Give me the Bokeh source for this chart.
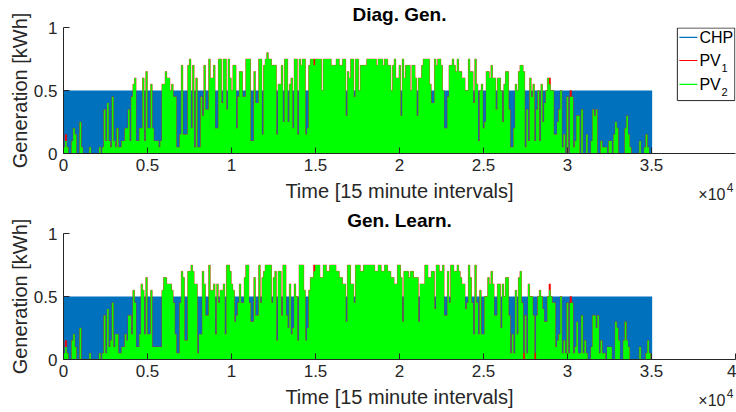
from bokeh.plotting import figure
from bokeh.layouts import column
from bokeh.models import FixedTicker, Label, Title
from bokeh.embed import file_html
from bokeh.resources import INLINE

# One year of 15-minute intervals, grouped by day (96 intervals per day)
STEPS_PER_DAY = 96
N_DAYS = 365

# CHP output [kWh] per day
chp_level = [0.5] * N_DAYS

# Daily peak PV_2 output [kWh], diagnostic generation
pv2_diag = [
    0.05, 0.1, 0.05, 0, 0, 0.1, 0.2, 0.15, 0, 0,
    0.25, 0.05, 0, 0, 0, 0, 0.05, 0, 0, 0,
    0, 0, 0.05, 0, 0.05, 0.35, 0.1, 0.4, 0.1, 0.05,
    0.45, 0.1, 0.05, 0.2, 0.05, 0.05, 0.1, 0.1, 0.2, 0.2,
    0.35, 0.1, 0.45, 0.55, 0.6, 0.1, 0.1, 0.2, 0.2, 0.6,
    0.1, 0.65, 0.2, 0.2, 0.55, 0.2, 0.1, 0.1, 0.1, 0.05,
    0.1, 0.55, 0.55, 0.65, 0.6, 0.6, 0.5, 0.55, 0.45, 0.45,
    0.05, 0.05, 0.15, 0.7, 0.15, 0.15, 0.15, 0.7, 0.75, 0.2,
    0.7, 0.05, 0.6, 0.05, 0.05, 0.45, 0.3, 0.7, 0.35, 0.35,
    0.75, 0.6, 0.6, 0.7, 0.2, 0.2, 0.75, 0.75, 0.4, 0.75,
    0.75, 0.35, 0.75, 0.6, 0.5, 0.7, 0.7, 0.2, 0.45, 0.65,
    0.65, 0.45, 0.45, 0.75, 0.75, 0.75, 0.1, 0.1, 0.65, 0.4,
    0.4, 0.75, 0.75, 0.15, 0.7, 0.75, 0.8, 0.75, 0.75, 0.7,
    0.7, 0.7, 0.15, 0.55, 0.55, 0.7, 0.25, 0.75, 0.75, 0.25,
    0.55, 0.6, 0.2, 0.75, 0.75, 0.15, 0.75, 0.7, 0.75, 0.75,
    0.15, 0.2, 0.7, 0.75, 0.75, 0.7, 0.75, 0.75, 0.75, 0.75,
    0.5, 0.75, 0.75, 0.75, 0.75, 0.75, 0.7, 0.7, 0.7, 0.75,
    0.75, 0.7, 0.7, 0.75, 0.75, 0.3, 0.65, 0.6, 0.75, 0.75,
    0.45, 0.75, 0.75, 0.5, 0.7, 0.7, 0.7, 0.7, 0.75, 0.75,
    0.75, 0.75, 0.75, 0.75, 0.7, 0.75, 0.75, 0.75, 0.7, 0.75,
    0.75, 0.7, 0.7, 0.5, 0.7, 0.75, 0.6, 0.6, 0.7, 0.3,
    0.75, 0.6, 0.7, 0.7, 0.7, 0.5, 0.7, 0.7, 0.6, 0.3,
    0.6, 0.6, 0.7, 0.75, 0.75, 0.75, 0.75, 0.55, 0.4, 0.4,
    0.75, 0.7, 0.75, 0.75, 0.7, 0.5, 0.2, 0.2, 0.45, 0.7,
    0.7, 0.75, 0.7, 0.65, 0.75, 0.65, 0.65, 0.6, 0.6, 0.5,
    0.5, 0.75, 0.65, 0.65, 0.4, 0.75, 0.55, 0.1, 0.5, 0.55,
    0.2, 0.25, 0.65, 0.65, 0.6, 0.7, 0.6, 0.6, 0.35, 0.6,
    0.6, 0.5, 0.25, 0.55, 0.65, 0.65, 0.35, 0.05, 0.05, 0.2,
    0.55, 0.5, 0.65, 0.7, 0.7, 0.65, 0.05, 0.35, 0.1, 0.6,
    0.45, 0.55, 0.1, 0.35, 0.5, 0.1, 0.55, 0.25, 0.4, 0.5,
    0.6, 0.55, 0.5, 0.5, 0.15, 0.15, 0.25, 0.35, 0.5, 0.05,
    0.15, 0, 0.45, 0, 0.45, 0.45, 0.05, 0.1, 0.3, 0.3,
    0, 0.35, 0, 0, 0.15, 0, 0, 0.1, 0.35, 0.3,
    0.35, 0, 0, 0.1, 0.05, 0.05, 0.05, 0, 0.1, 0.1,
    0, 0.15, 0.25, 0.2, 0, 0, 0, 0, 0.2, 0.3,
    0.15, 0.05, 0, 0, 0, 0, 0, 0.1, 0, 0,
    0.05, 0.15, 0.05, 0, 0,
]

# Daily peak PV_2 output [kWh], learned generation
pv2_learn = [
    0.05, 0.1, 0.05, 0, 0, 0.15, 0.2, 0.1, 0, 0,
    0.25, 0, 0, 0, 0, 0, 0.05, 0, 0, 0,
    0, 0, 0.05, 0, 0.05, 0.35, 0.05, 0.4, 0.1, 0.15,
    0.45, 0.1, 0.2, 0.2, 0.05, 0.05, 0.1, 0.1, 0.2, 0.15,
    0.35, 0.35, 0.2, 0.55, 0.45, 0.1, 0.1, 0.2, 0.6, 0.55,
    0.2, 0.65, 0.2, 0.2, 0.55, 0.1, 0.1, 0.1, 0.1, 0.1,
    0.1, 0.55, 0.65, 0.65, 0.6, 0.6, 0.6, 0.55, 0.45, 0.2,
    0.05, 0.05, 0.45, 0.7, 0.65, 0.15, 0.15, 0.7, 0.7, 0.75,
    0.7, 0.6, 0.6, 0.05, 0.2, 0.2, 0.7, 0.6, 0.35, 0.35,
    0.75, 0.55, 0.55, 0.6, 0.2, 0.6, 0.45, 0.55, 0.55, 0.6,
    0.2, 0.75, 0.75, 0.7, 0.6, 0.55, 0.3, 0.35, 0.45, 0.6,
    0.45, 0.45, 0.65, 0.75, 0.75, 0.45, 0.3, 0.3, 0.65, 0.35,
    0.35, 0.75, 0.45, 0.65, 0.7, 0.75, 0.75, 0.75, 0.75, 0.45,
    0.65, 0.7, 0.15, 0.7, 0.7, 0.35, 0.75, 0.75, 0.35, 0.25,
    0.6, 0.2, 0.25, 0.6, 0.5, 0.15, 0.75, 0.75, 0.75, 0.55,
    0.15, 0.25, 0.55, 0.65, 0.65, 0.7, 0.75, 0.75, 0.75, 0.65,
    0.65, 0.75, 0.75, 0.7, 0.7, 0.75, 0.75, 0.75, 0.75, 0.7,
    0.7, 0.65, 0.65, 0.6, 0.6, 0.3, 0.75, 0.75, 0.6, 0.6,
    0.45, 0.75, 0.75, 0.75, 0.7, 0.7, 0.75, 0.75, 0.75, 0.75,
    0.75, 0.75, 0.75, 0.7, 0.7, 0.75, 0.75, 0.7, 0.7, 0.75,
    0.75, 0.7, 0.7, 0.65, 0.65, 0.6, 0.6, 0.75, 0.75, 0.65,
    0.3, 0.7, 0.7, 0.7, 0.65, 0.7, 0.7, 0.65, 0.65, 0.65,
    0.3, 0.6, 0.6, 0.6, 0.75, 0.75, 0.65, 0.65, 0.7, 0.7,
    0.4, 0.75, 0.75, 0.7, 0.7, 0.75, 0.35, 0.35, 0.7, 0.45,
    0.75, 0.75, 0.7, 0.7, 0.75, 0.7, 0.65, 0.6, 0.6, 0.4,
    0.45, 0.75, 0.65, 0.45, 0.2, 0.75, 0.45, 0.2, 0.55, 0.2,
    0.2, 0.5, 0.5, 0.65, 0.6, 0.7, 0.6, 0.35, 0.35, 0.6,
    0.6, 0.25, 0.6, 0.5, 0.65, 0.65, 0.35, 0.05, 0.2, 0.05,
    0.55, 0.2, 0.65, 0.7, 0.45, 0, 0.35, 0.05, 0.6, 0.5,
    0.5, 0.35, 0, 0.35, 0.5, 0.55, 0.5, 0.4, 0.3, 0.3,
    0.5, 0.55, 0.5, 0.45, 0.45, 0.1, 0.15, 0.2, 0.5, 0.05,
    0.15, 0.05, 0.45, 0.05, 0.45, 0.45, 0.05, 0.1, 0.3, 0.05,
    0.05, 0.35, 0.05, 0.15, 0.05, 0, 0, 0.1, 0.35, 0.35,
    0.25, 0.35, 0.05, 0.15, 0.05, 0.05, 0, 0.1, 0.1, 0.1,
    0, 0, 0.3, 0.25, 0.15, 0, 0, 0.15, 0.3, 0.15,
    0.1, 0, 0, 0, 0, 0, 0, 0.1, 0, 0,
    0, 0.05, 0.15, 0.05, 0,
]

# PV_1 follows PV_2 closely; days where it peaks higher
pv1_diag_peaks = {1: 0.15, 155: 0.75, 301: 0.6, 314: 0.5}
pv1_learn_peaks = {1: 0.15, 155: 0.75, 285: 0.05, 292: 0.05, 301: 0.6, 314: 0.5}

x_ticks = [0, 5000, 10000, 15000, 20000, 25000, 30000, 35000, 40000]
x_tick_labels = ["0", "0.5", "1", "1.5", "2", "2.5", "3", "3.5", "4"]
y_ticks = [0, 0.5, 1]
y_tick_labels = ["0", "0.5", "1"]
x_label = "Time [15 minute intervals]"
y_label = "Generation [kWh]"
x_exponent_base = "\u00d710"
x_exponent_power = "4"

CHP_BLUE = "#0072BD"
PV1_RED = "#FF0000"
PV2_GREEN = "#00FF00"
INK = "#262626"
FONT = "Liberation Sans"


def day_edges():
    return [d * STEPS_PER_DAY for d in range(N_DAYS)] + [N_DAYS * STEPS_PER_DAY]


def closed(values):
    return list(values) + [values[-1]]


def style_axis(ax):
    ax.axis_line_color = INK
    ax.major_tick_line_color = INK
    ax.major_tick_in = 6
    ax.major_tick_out = 0
    ax.minor_tick_line_color = None
    ax.major_label_text_font = FONT
    ax.major_label_text_font_size = "17px"
    ax.major_label_text_color = INK
    ax.axis_label_text_font = FONT
    ax.axis_label_text_font_size = "20px"
    ax.axis_label_text_font_style = "normal"
    ax.axis_label_text_color = INK


def make_panel(title, pv2, pv1_peaks, n_xticks, with_legend):
    pv1 = [pv1_peaks.get(i, v) for i, v in enumerate(pv2)]
    p = figure(width=736, height=206, x_range=(0, 40000), y_range=(0, 1),
               output_backend="svg", toolbar_location=None,
               min_border_left=63, min_border_right=1,
               min_border_top=27, min_border_bottom=53)
    p.outline_line_color = None
    p.grid.visible = False

    # stacked draw order: CHP, then PV_1, then PV_2 on top
    x = day_edges()
    zero = [0] * (N_DAYS + 1)
    p.varea_step(x=x, y1=zero, y2=closed(chp_level), step_mode="after",
                 fill_color=CHP_BLUE)
    p.varea_step(x=x, y1=zero, y2=closed(pv1), step_mode="after",
                 fill_color=PV1_RED)
    p.step(x=x, y=closed(pv1), mode="after", line_color=PV1_RED,
           line_width=1, line_alpha=0.45)
    p.varea_step(x=x, y1=zero, y2=closed(pv2), step_mode="after",
                 fill_color=PV2_GREEN)

    p.title.text = title
    p.title.align = "center"
    p.title.vertical_align = "top"
    p.title.text_font = FONT
    p.title.text_font_size = "19px"
    p.title.text_font_style = "bold"
    p.title.text_color = "black"
    p.title.standoff = 2

    style_axis(p.xaxis[0])
    style_axis(p.yaxis[0])

    xt = x_ticks[:n_xticks]
    p.xaxis.ticker = FixedTicker(ticks=xt)
    p.xaxis.major_label_overrides = {t: s for t, s in zip(xt, x_tick_labels)}
    p.xaxis.major_label_standoff = 5
    p.xaxis.axis_label = x_label
    p.xaxis.axis_label_standoff = 6

    p.yaxis.ticker = FixedTicker(ticks=y_ticks)
    p.yaxis.major_label_overrides = {t: s for t, s in zip(y_ticks, y_tick_labels)}
    p.yaxis.axis_label = y_label
    p.yaxis.major_label_standoff = 6
    p.yaxis.axis_label_standoff = 0

    # x-axis scale factor (x10^4), tucked under the right end of the axis
    p.add_layout(Title(text=x_exponent_base, align="right", vertical_align="top",
                       standoff=-37, offset=10, text_font=FONT,
                       text_font_size="16px", text_color=INK,
                       text_font_style="normal"), "below")
    p.add_layout(Title(text=x_exponent_power, align="right", vertical_align="top",
                       standoff=-43, offset=2, text_font=FONT,
                       text_font_size="12px", text_color=INK,
                       text_font_style="normal"), "below")

    if with_legend:
        p.quad(left=[36540], right=[39960], top=[0.996], bottom=[0.42],
               fill_color="white", line_color=INK, line_width=1)
        entries = [("CHP", None, CHP_BLUE, 0.921),
                   ("PV", "1", PV1_RED, 0.738),
                   ("PV", "2", PV2_GREEN, 0.548)]
        p.segment(x0=[36657] * 3, x1=[37731] * 3, y0=[e[3] for e in entries],
                  y1=[e[3] for e in entries], line_color=[e[2] for e in entries],
                  line_width=1.2)
        for main, sub, _, yy in entries:
            p.add_layout(Label(x=37850, y=yy, text=main, text_font=FONT,
                               text_font_size="16px", text_color="black",
                               text_baseline="middle", text_align="left"))
            if sub:
                p.add_layout(Label(x=39164, y=yy - 0.063, text=sub, text_font=FONT,
                                   text_font_size="11px", text_color="black",
                                   text_baseline="middle", text_align="left"))
    return p


top = make_panel("Diag. Gen.", pv2_diag, pv1_diag_peaks, 8, True)
bottom = make_panel("Gen. Learn.", pv2_learn, pv1_learn_peaks, 9, False)

layout = column(top, bottom)
open("out.html", "w").write(file_html(layout, INLINE))
